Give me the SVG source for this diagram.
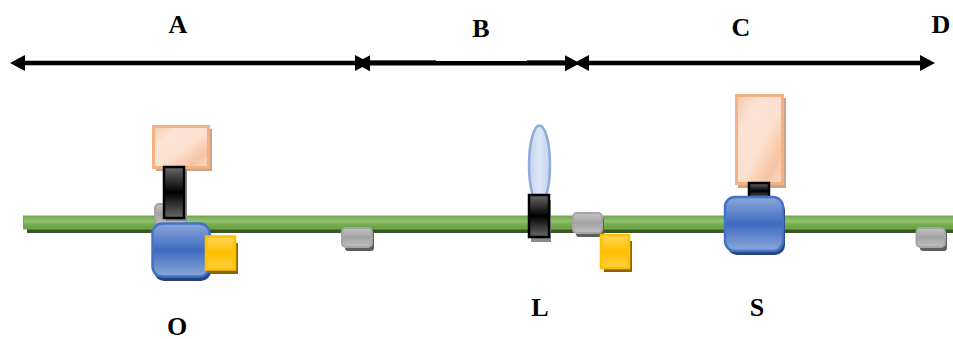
<svg xmlns="http://www.w3.org/2000/svg" width="953" height="339" viewBox="0 0 953 339">
  <style>
    .lbl { font-family: "Liberation Serif", "Times New Roman", serif; font-weight: bold; font-size: 26px; fill: #000; text-anchor: middle; }
    .span { stroke: #000; stroke-width: 4.5; fill: none; marker-start: url(#head); marker-end: url(#head); }
    .hair { stroke: #555; stroke-width: 1; fill: none; }
    .peach { fill: url(#gPeach); stroke: #f4b183; stroke-width: 3; }
    .peachS { fill: #c9a58c; }
    .blue { fill: url(#gBlue); stroke: #4472c4; stroke-width: 2.5; }
    .blueS { fill: #27457c; }
    .yellow { fill: url(#gYellow); stroke: #ffc000; stroke-width: 2.5; }
    .yellowS { fill: #8a6800; }
    .grey { fill: url(#gGrey); stroke: #a5a5a5; stroke-width: 2; }
    .greyS { fill: #5e5e5e; }
    .clamp { fill: url(#gClamp); stroke: #000; stroke-width: 2.5; }
    .clampS { fill: #8a8a8a; }
  </style>
  <defs>
    <!-- arrowhead: its base sits on the end of the line, so the tip runs past the line -->
    <marker id="head" markerUnits="userSpaceOnUse" markerWidth="18" markerHeight="18" refX="0" refY="8.5" orient="auto-start-reverse" viewBox="0 0 18 17">
      <path d="M0 0.5 L15 8.5 L0 16.5 Z" fill="#000"/>
    </marker>
    <linearGradient id="gBar" x1="0" y1="0" x2="0" y2="1">
      <stop offset="0" stop-color="#6fa84a"/>
      <stop offset="0.4" stop-color="#94c277"/>
      <stop offset="0.6" stop-color="#78b052"/>
      <stop offset="1" stop-color="#67a043"/>
    </linearGradient>
    <linearGradient id="gPeach" x1="0" y1="0" x2="1" y2="1">
      <stop offset="0" stop-color="#f8c9a8"/>
      <stop offset="0.25" stop-color="#fbe3d5"/>
      <stop offset="0.55" stop-color="#fce0cf"/>
      <stop offset="0.8" stop-color="#f7c4a2"/>
      <stop offset="1" stop-color="#fbdcc8"/>
    </linearGradient>
    <linearGradient id="gBlue" x1="0" y1="0" x2="0" y2="1">
      <stop offset="0" stop-color="#8ba6d9"/>
      <stop offset="0.5" stop-color="#3f6cc0"/>
      <stop offset="1" stop-color="#8ba6d9"/>
    </linearGradient>
    <linearGradient id="gYellow" x1="0" y1="0" x2="0" y2="1">
      <stop offset="0" stop-color="#ffd45c"/>
      <stop offset="0.5" stop-color="#ffc000"/>
      <stop offset="1" stop-color="#ffcf40"/>
    </linearGradient>
    <linearGradient id="gGrey" x1="0" y1="0" x2="0" y2="1">
      <stop offset="0" stop-color="#c4c4c4"/>
      <stop offset="0.5" stop-color="#a3a3a3"/>
      <stop offset="1" stop-color="#c0c0c0"/>
    </linearGradient>
    <linearGradient id="gClamp" x1="0" y1="0" x2="0" y2="1">
      <stop offset="0" stop-color="#6a6a6a"/>
      <stop offset="0.5" stop-color="#000"/>
      <stop offset="1" stop-color="#6a6a6a"/>
    </linearGradient>
    <linearGradient id="gLens" x1="0" y1="0" x2="1" y2="0">
      <stop offset="0" stop-color="#c3d2ec"/>
      <stop offset="0.5" stop-color="#dce6f5"/>
      <stop offset="1" stop-color="#c3d2ec"/>
    </linearGradient>
  </defs>

  <!-- optical rail -->
  <g id="rail">
    <rect x="27" y="219" width="926" height="14" fill="#385723"/>
    <rect x="23.500" y="216" width="930" height="13" fill="url(#gBar)" stroke="#70ad47" stroke-width="1"/>
  </g>

  <!-- distance spans along the top -->
  <g id="connectors">
    <line class="span" x1="25" y1="63" x2="355" y2="63"/>
    <line class="span" x1="370" y1="63.300" x2="565" y2="63.300"/>
    <line class="span" x1="589" y1="63" x2="920" y2="63"/>
    <path class="hair" d="M370 60.500H436M527 60.500H565"/>
  </g>

  <g id="carrier-1">
    <rect class="greyS" x="345" y="231" width="29" height="20" rx="3"/>
    <rect class="grey" x="342" y="228" width="30" height="19" rx="4"/>
  </g>

  <g id="node-O">
    <rect class="grey" x="155" y="204" width="30" height="20" rx="4"/>
    <rect class="peachS" x="156" y="129" width="56" height="42"/>
    <rect class="peach" x="153.500" y="126.500" width="55" height="41"/>
    <rect x="166" y="169" width="21" height="52" class="clampS"/>
    <rect class="clamp" x="164" y="167" width="20" height="51"/>
    <rect class="blueS" x="154" y="226" width="57" height="55" rx="10"/>
    <rect class="blue" x="152.500" y="223.500" width="57" height="53" rx="10"/>
    <rect class="yellowS" x="209" y="243" width="29" height="31"/>
    <rect class="yellow" x="206" y="236.500" width="29" height="33"/>
  </g>

  <g id="node-L">
    <ellipse cx="539.500" cy="165" rx="10.500" ry="39.500" fill="url(#gLens)" stroke="#8faadc" stroke-width="2.500"/>
    <rect class="clampS" x="531" y="200" width="20" height="42"/>
    <rect class="clamp" x="529" y="195" width="20" height="42"/>
  </g>

  <g id="carrier-2">
    <rect class="greyS" x="576" y="217" width="28" height="20" rx="3"/>
    <rect class="grey" x="573" y="213" width="29" height="20" rx="4"/>
    <rect class="yellowS" x="604" y="241" width="28" height="31"/>
    <rect class="yellow" x="601" y="235" width="28" height="33"/>
  </g>

  <g id="node-S">
    <rect class="peachS" x="738" y="98" width="48" height="90"/>
    <rect class="peach" x="736.500" y="95.500" width="46" height="88"/>
    <rect class="clamp" x="749" y="183" width="20" height="16"/>
    <rect class="blueS" x="727" y="200" width="58" height="55" rx="10"/>
    <rect class="blue" x="725" y="197" width="58" height="54" rx="10"/>
  </g>

  <g id="carrier-3">
    <rect class="greyS" x="920" y="231" width="27" height="20" rx="3"/>
    <rect class="grey" x="916.500" y="228" width="28.500" height="19" rx="4"/>
  </g>

  <g id="labels">
    <text class="lbl" x="178" y="33">A</text>
    <text class="lbl" x="481" y="37">B</text>
    <text class="lbl" x="741" y="36">C</text>
    <text class="lbl" x="941" y="33">D</text>
    <text class="lbl" x="177" y="335">O</text>
    <text class="lbl" x="540" y="316">L</text>
    <text class="lbl" x="757" y="316">S</text>
  </g>
</svg>
